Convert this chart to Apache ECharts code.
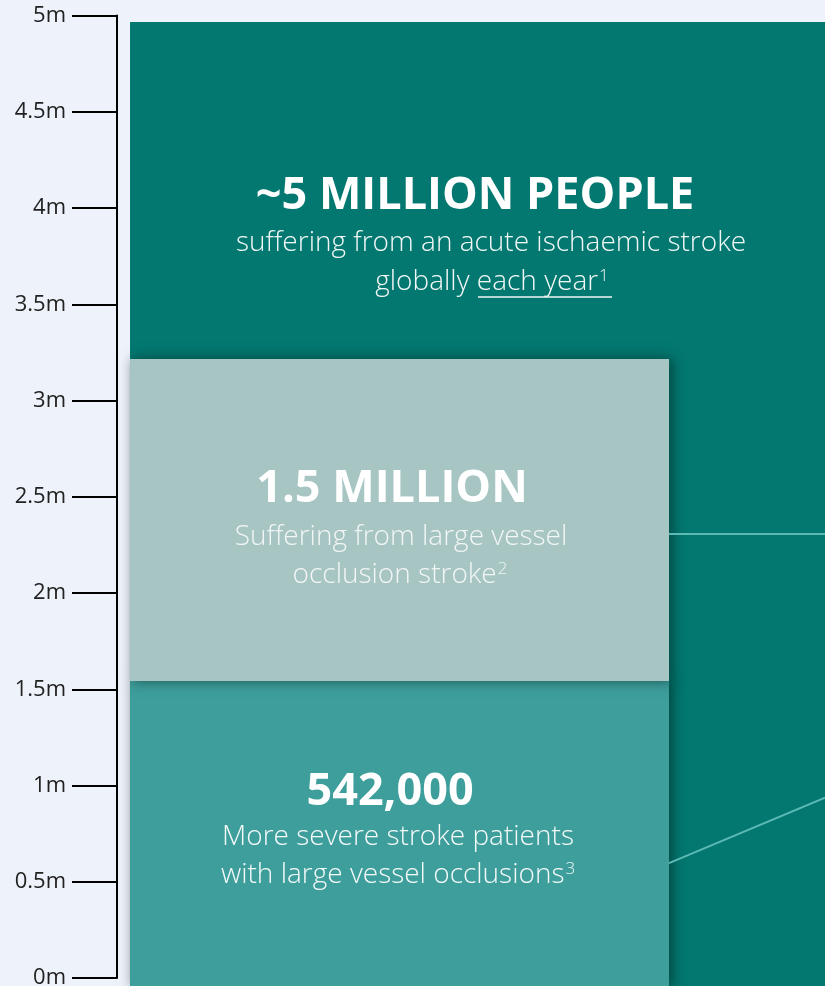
<!DOCTYPE html>
<html>
<head>
<meta charset="utf-8">
<script src="https://cdn.jsdelivr.net/npm/echarts@6/dist/echarts.min.js"></script>
<style>
  html, body { margin: 0; padding: 0; background: #eef2fa; }
  #chart { width: 825px; height: 986px; }
</style>
</head>
<body>
<div id="chart"></div>
<script>
// Vertical scale, in millions of people
const yTicks = [0, 0.5, 1, 1.5, 2, 2.5, 3, 3.5, 4, 4.5, 5];

// Boxes: horizontal extent (0–100 across the plot) and vertical extent (millions)
const boxNames   = ['all strokes', 'severe LVO', 'LVO'];
const boxLeft    = [1.84, 1.84, 1.84];
const boxRight   = [100, 77.97, 77.97];
const boxBottom  = [-0.045, -0.045, 1.543];
const boxTop     = [4.966, 1.543, 3.216];
const boxColors  = ['#037870', '#3d9e9b', '#a7c5c3'];

// Headline and description for each box
const headlines  = ['~5 MILLION PEOPLE', '542,000', '1.5 MILLION'];
const lines1     = ['suffering from an acute ischaemic stroke',
                    'More severe stroke patients',
                    'Suffering from large vessel'];
const lines2     = ['globally {u|each year}{sup|1}',
                    'with large vessel occlusions{sup|3}',
                    'occlusion stroke{sup|2}'];

// Connector lines from the LVO boxes to the right edge
const connectorA = [[77.97, 2.307], [100, 2.307]];
const connectorB = [[77.97, 0.597], [100, 0.937]];

// Text layout per box, in px relative to the box's top-left corner
const textLayout = [
  { head: [345, 174], l1: [361, 221], l2: [362, 260], subColor: '#f2f7f6', underline: [348, 482, 275] },
  { head: [260, 111], l1: [268, 156], l2: [268, 194], subColor: '#f4f9f9' },
  { head: [262, 130], l1: [271, 178], l2: [270, 216], subColor: '#f1f6f5' }
];

const FONT = '"Open Sans", Lato, sans-serif';

const boxData = boxNames.map((n, i) => [boxLeft[i], boxRight[i], boxBottom[i], boxTop[i]]);

function renderBox(params, api) {
  const i = params.dataIndex;
  const p0 = api.coord([api.value(0), api.value(3)]);
  const p1 = api.coord([api.value(1), api.value(2)]);
  const x = p0[0], y = p0[1];
  const w = p1[0] - p0[0], h = p1[1] - p0[1];
  const L = textLayout[i];
  const sub = {
    fill: L.subColor, fontFamily: FONT, fontWeight: 300, fontSize: 28,
    align: 'center', verticalAlign: 'middle',
    rich: {
      u: { fontFamily: FONT, fontWeight: 300, fontSize: 28, color: L.subColor },
      sup: { fontFamily: FONT, fontWeight: 300, fontSize: 17, color: L.subColor,
             verticalAlign: 'top', padding: [0, 0, 12, 1] }
    }
  };
  const children = [
    {
      type: 'rect',
      shape: { x: x, y: y, width: w, height: h },
      style: i === 0 ? { fill: boxColors[i] } : {
        fill: boxColors[i], shadowBlur: 12, shadowOffsetX: 3, shadowOffsetY: 0,
        shadowColor: 'rgba(0,30,28,0.6)'
      }
    },
    {
      type: 'text',
      style: { text: headlines[i], x: x + L.head[0], y: y + L.head[1], fill: '#ffffff',
               fontFamily: FONT, fontWeight: 'bold', fontSize: 45,
               align: 'center', verticalAlign: 'middle' }
    },
    { type: 'text', style: Object.assign({}, sub, { text: lines1[i], x: x + L.l1[0], y: y + L.l1[1] }) },
    { type: 'text', style: Object.assign({}, sub, { text: lines2[i], x: x + L.l2[0], y: y + L.l2[1] }) }
  ];
  if (L.underline) {
    children.push({
      type: 'line',
      shape: { x1: x + L.underline[0], y1: y + L.underline[2], x2: x + L.underline[1], y2: y + L.underline[2] },
      style: { stroke: L.subColor, lineWidth: 1.5 }
    });
  }
  return { type: 'group', children: children };
}

const chart = echarts.init(document.getElementById('chart'), null, { renderer: 'canvas' });

const connectorStyle = {
  type: 'line', symbol: 'none', silent: true, z: 5,
  lineStyle: { color: '#5cb9b4', width: 2 }, animation: false
};

chart.setOption({
  backgroundColor: '#eef2fa',
  animation: false,
  grid: { left: 117, right: 0, top: 15.5, bottom: 8, outerBoundsMode: 'none', containLabel: false },
  xAxis: { type: 'value', min: 0, max: 100, show: false },
  yAxis: {
    type: 'value', min: 0, max: 5, interval: 0.5,
    axisLine: { show: true, lineStyle: { color: '#000', width: 2 } },
    axisTick: { show: true, length: 45, lineStyle: { color: '#000', width: 2 } },
    splitLine: { show: false },
    axisLabel: {
      margin: 51, fontSize: 22, color: '#222', fontFamily: FONT,
      formatter: v => (yTicks.includes(v) ? v + 'm' : '')
    }
  },
  series: [
    {
      type: 'custom', renderItem: renderBox, data: boxData, z: 2,
      encode: { x: [0, 1], y: [2, 3] }, clip: false
    },
    Object.assign({ data: connectorA }, connectorStyle),
    Object.assign({ data: connectorB }, connectorStyle)
  ]
});
</script>
</body>
</html>
